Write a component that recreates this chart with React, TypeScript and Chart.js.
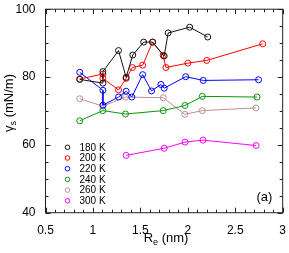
import React, { useEffect, useRef } from "react";
import { Chart, registerables } from "chart.js";

Chart.register(...registerables);

const labels = ["180 K", "200 K", "220 K", "240 K", "260 K", "300 K"];
const colors = ["#111111", "#ff0000", "#0000ff", "#0a960a", "#bc8f8f", "#ff00ff"];

const r180 = [0.861, 1.105, 1.105, 1.27, 1.35, 1.42, 1.535, 1.629, 1.751, 1.793, 2.02, 2.21];
const g180 = [79.3, 78.2, 81.6, 87.8, 79.9, 86.5, 90.3, 90.3, 86.2, 93.0, 94.7, 91.8];

const r200 = [0.861, 1.105, 1.105, 1.27, 1.35, 1.417, 1.524, 1.629, 1.74, 1.77, 2.0, 2.2, 2.79];
const g200 = [79.4, 80.9, 79.6, 76.2, 79.6, 82.8, 83.5, 90.3, 86.4, 82.8, 84.1, 84.9, 89.8];

const r220 = [0.861, 1.105, 1.105, 1.27, 1.35, 1.41, 1.524, 1.618, 1.717, 1.751, 1.978, 2.163, 2.746];
const g220 = [81.4, 76.1, 71.7, 74.1, 75.8, 74.1, 80.7, 75.9, 77.8, 76.7, 80.1, 79.0, 79.2];

const r240 = [0.861, 1.105, 1.343, 1.741, 1.97, 2.153, 2.73];
const g240 = [67.1, 70.1, 69.1, 70.1, 71.6, 74.3, 74.1];

const r260 = [0.861, 1.105, 1.343, 1.741, 1.968, 2.153, 2.718];
const g260 = [73.6, 71.4, 74.1, 73.9, 69.0, 70.1, 70.9];

const r300 = [1.35, 1.751, 1.971, 2.16, 2.72];
const g300 = [56.9, 59.0, 60.8, 61.4, 59.8];

const seriesR = [r180, r200, r220, r240, r260, r300];
const seriesG = [g180, g200, g220, g240, g260, g300];

const xTicks = [0.5, 1, 1.5, 2, 2.5, 3];
const yTicks = [40, 60, 80, 100];
const xMinorStep = 0.1;
const yMinorStep = 5;

const FONT = "'Liberation Sans', Arial, sans-serif";

const decorPlugin = {
  id: "decor",
  afterDraw(chart: any) {
    const ctx = chart.ctx;
    const { left, right, top, bottom } = chart.chartArea;
    const xs = chart.scales.x;
    const ys = chart.scales.y;
    ctx.save();
    ctx.strokeStyle = "#222";
    ctx.lineWidth = 1;
    ctx.strokeRect(left, top, right - left, bottom - top);
    ctx.beginPath();
    // x ticks
    for (let v = xs.min; v <= xs.max + 1e-9; v += xMinorStep) {
      const vv = Math.round(v * 10) / 10;
      const major = xTicks.some((t) => Math.abs(t - vv) < 1e-6);
      const len = major ? 5 : 3;
      const px = Math.round(xs.getPixelForValue(vv)) + 0.5;
      ctx.moveTo(px, bottom);
      ctx.lineTo(px, bottom - len);
      ctx.moveTo(px, top);
      ctx.lineTo(px, top + len);
    }
    for (let v = ys.min; v <= ys.max + 1e-9; v += yMinorStep) {
      const major = yTicks.some((t) => Math.abs(t - v) < 1e-6);
      const len = major ? 5 : 3;
      const py = Math.round(ys.getPixelForValue(v)) + 0.5;
      ctx.moveTo(left, py);
      ctx.lineTo(left + len, py);
      ctx.moveTo(right, py);
      ctx.lineTo(right - len, py);
    }
    ctx.stroke();

    // x title
    ctx.fillStyle = "#000";
    ctx.textBaseline = "alphabetic";
    ctx.textAlign = "left";
    const big = "13px " + FONT;
    const small = "9px " + FONT;
    ctx.font = big;
    const wR = ctx.measureText("R").width;
    const wRest = ctx.measureText(" (nm)").width;
    ctx.font = small;
    const wE = ctx.measureText("e").width;
    const totalX = wR + wE + wRest;
    let x0 = (left + right) / 2 + 2 - totalX / 2;
    const base = 241.5;
    ctx.font = big;
    ctx.fillText("R", x0, base);
    ctx.font = small;
    ctx.fillText("e", x0 + wR, base + 3);
    ctx.font = big;
    ctx.fillText(" (nm)", x0 + wR + wE, base);

    // y title
    ctx.save();
    ctx.translate(13, 103);
    ctx.rotate(-Math.PI / 2);
    ctx.font = big;
    const wG = ctx.measureText("\u03b3").width;
    const wRest2 = ctx.measureText(" (mN/m)").width;
    ctx.font = small;
    const wS = ctx.measureText("s").width;
    const totalY = wG + wS + wRest2;
    const y0 = -totalY / 2;
    ctx.font = big;
    ctx.fillText("\u03b3", y0, 0);
    ctx.font = small;
    ctx.fillText("s", y0 + wG, 3);
    ctx.font = big;
    ctx.fillText(" (mN/m)", y0 + wG + wS, 0);
    ctx.restore();

    // (a)
    ctx.font = big;
    ctx.fillText("(a)", 256.5, 200.5);

    // legend
    ctx.font = "10px " + FONT;
    ctx.textBaseline = "middle";
    labels.forEach((lab, i) => {
      const cy = 147.3 + i * 10.7;
      ctx.beginPath();
      ctx.strokeStyle = colors[i];
      ctx.lineWidth = 1;
      ctx.arc(67.5, cy, 2.3, 0, Math.PI * 2);
      ctx.stroke();
      ctx.fillStyle = "#000";
      ctx.fillText(lab, 79.5, cy + 0.5);
    });
    ctx.restore();
  },
};

export default function App() {
  const ref = useRef<HTMLCanvasElement | null>(null);
  useEffect(() => {
    document.body.style.margin = "0";
    const datasets = labels.map((lab, i) => ({
      label: lab,
      data: seriesR[i].map((r, j) => ({ x: r, y: seriesG[i][j] })),
      borderColor: colors[i],
      backgroundColor: "rgba(0,0,0,0)",
      pointBorderColor: colors[i],
      pointBackgroundColor: "rgba(0,0,0,0)",
      pointRadius: 3,
      pointBorderWidth: 1,
      borderWidth: 1,
      tension: 0,
      showLine: true,
    }));
    const chart = new Chart(ref.current!, {
      type: "scatter",
      data: { datasets },
      options: {
        animation: false,
        responsive: false,
        devicePixelRatio: 1,
        layout: { padding: { left: 0, right: 4.7, top: 5.7, bottom: 0 } },
        plugins: { legend: { display: false }, tooltip: { enabled: false } },
        scales: {
          x: {
            type: "linear",
            min: 0.5,
            max: 3,
            afterBuildTicks: (s: any) => {
              s.ticks = xTicks.map((v) => ({ value: v }));
            },
            afterFit: (s: any) => {
              s.height = 40.3;
            },
            grid: { display: false },
            border: { display: false },
            ticks: {
              color: "#000",
              padding: 3,
              font: { family: FONT, size: 12 },
              callback: (v: any) => String(v),
              maxRotation: 0,
            },
          },
          y: {
            type: "linear",
            min: 40,
            max: 100,
            afterBuildTicks: (s: any) => {
              s.ticks = yTicks.map((v) => ({ value: v }));
            },
            afterFit: (s: any) => {
              s.width = 45.5;
            },
            grid: { display: false },
            border: { display: false },
            ticks: {
              color: "#000",
              padding: 2,
              font: { family: FONT, size: 12 },
              callback: (v: any) => String(v),
            },
          },
        },
      },
      plugins: [decorPlugin],
    } as any);
    return () => chart.destroy();
  }, []);
  return (
    <div style={{ position: "fixed", left: 0, top: 0, width: 289, height: 253 }}>
      <canvas ref={ref} width={289} height={253} />
    </div>
  );
}
